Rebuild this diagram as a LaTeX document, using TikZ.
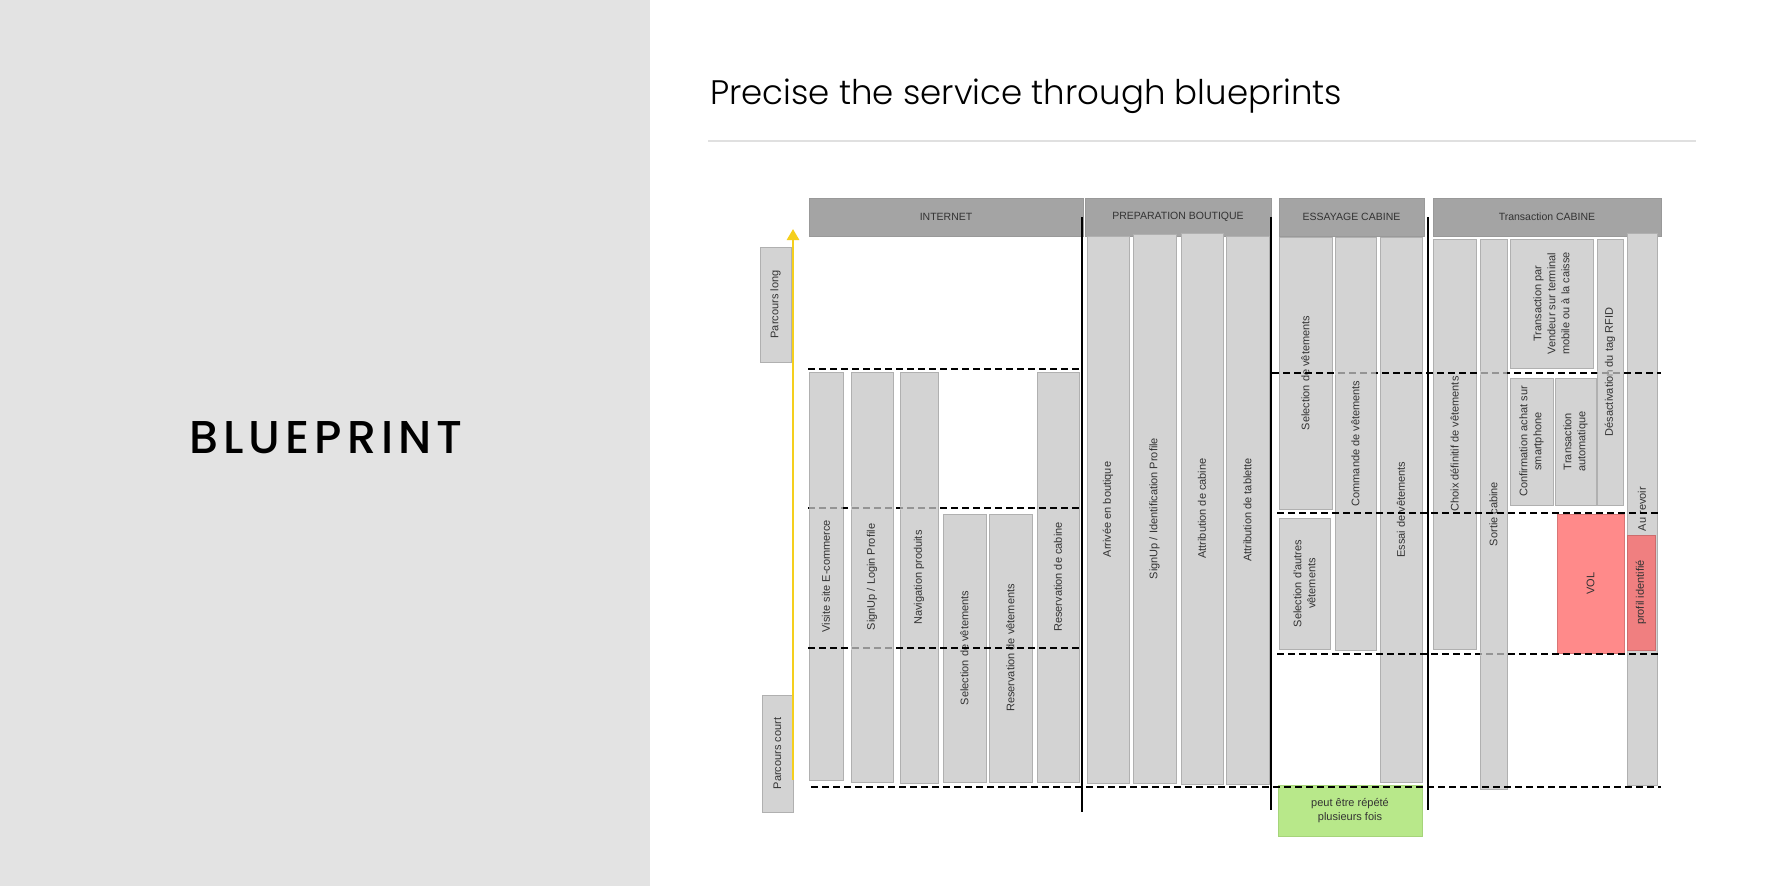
\documentclass[tikz,border=0pt]{standalone}
\usepackage{fontspec}
\setmainfont{Liberation Sans}
\newfontfamily\titlefont{Poppins Light}
\newfontfamily\brandfont{Poppins Medium}[LetterSpace=11]
\usetikzlibrary{positioning, arrows.meta}

\definecolor{panel}{HTML}{E3E3E3}
\definecolor{boxfill}{HTML}{D3D3D3}
\definecolor{boxline}{HTML}{B0B0B0}
\definecolor{headfill}{HTML}{A4A4A4}
\definecolor{headline}{HTML}{999999}
\definecolor{labeltext}{HTML}{333333}
\definecolor{pathyellow}{HTML}{F5CF1D}
\definecolor{repeatgreen}{HTML}{B8E88A}
\definecolor{repeatline}{HTML}{A6D47A}
\definecolor{volred}{HTML}{FF8A8A}
\definecolor{profilred}{HTML}{F07F80}
\definecolor{rulegray}{HTML}{E0E0E0}

\begin{document}
\begin{tikzpicture}[x=1pt, y=-1pt, >=Stealth,
    act/.style={draw=boxline, fill=boxfill, rotate=90, inner sep=1pt, align=center, text=labeltext, font=\fontsize{11}{14}\selectfont},
    head/.style={draw=headline, fill=headfill, minimum height=38, inner sep=0pt, text=labeltext, font=\fontsize{10.5}{12}\selectfont},
    lane/.style={line width=2pt, dash pattern=on 7pt off 4pt},
    veil/.style={fill=boxfill, fill opacity=0.7},
    sep/.style={line width=2.6pt}]
    \useasboundingbox (0,0) rectangle (1772,886);
    \fill[white] (0,0) rectangle (1772,886);
    \fill[panel] (0,0) rectangle (650,886);

    % titles
    \node[font=\brandfont\fontsize{46}{48}\selectfont] (brand) at (326,438) {BLUEPRINT};
    \node[anchor=base west, inner sep=0pt, font=\titlefont\fontsize{34}{36}\selectfont] (title) at (710,104) {Precise the service through blueprints};
    \draw[rulegray, line width=2pt] (708,141) -- (1696,141);

    % phase headers
    \node[head, minimum width=274] (internet) at (946,217) {INTERNET};
    \node[head, minimum width=186] (prep) at (1178,217) {PREPARATION BOUTIQUE};
    \node[head, minimum width=145] (essayage) at (1351.5,217) {ESSAYAGE CABINE};
    \node[head, minimum width=228] (transaction) at (1547,217) {Transaction CABINE};

    % parcours
    \node[act, minimum width=115, minimum height=31] (long) at (775.5,304.5) {Parcours long};
    \node[act, minimum width=117, minimum height=31] (court) at (777.5,753.5) {Parcours court};
    \coordinate (yl0) at (793,780);
    \coordinate (yl1) at (793,229);
    \draw[pathyellow, line width=2.6pt, -{Triangle[width=12pt,length=11pt]}] (yl0) -- (yl1);

    % internet
    \node[act, minimum width=408, minimum height=34] (visite) at (826,576) {Visite site E-commerce};
    \node[act, minimum width=410, minimum height=42] (signup) at (872,577) {SignUp / Login Profile};
    \node[act, minimum width=411, minimum height=38] (navig) at (919,577.5) {Navigation produits};
    \node[act, minimum width=268, minimum height=43] (selvet) at (964.5,648) {Selection de vêtements};
    \node[act, minimum width=268, minimum height=43] (resvet) at (1010.5,648) {Reservation de vêtements};
    \node[act, minimum width=410, minimum height=42] (rescab) at (1058,577) {Reservation de cabine};

    % preparation boutique
    \node[act, minimum width=547, minimum height=42] (arrivee) at (1108,509.5) {Arrivée en boutique};
    \node[act, minimum width=549, minimum height=43] (ident) at (1154.5,508.5) {SignUp / Identification Profile};
    \node[act, minimum width=551, minimum height=42] (attcab) at (1202,508.5) {Attribution de cabine};
    \node[act, minimum width=548, minimum height=43] (atttab) at (1247.5,510) {Attribution de tablette};

    % essayage cabine
    \node[act, minimum width=272, minimum height=53] (selcab) at (1305.5,373) {Selection de vêtements};
    \node[act, minimum width=413, minimum height=41] (commande) at (1355.5,443.5) {Commande de vêtements};
    \node[act, minimum width=545, minimum height=42] (essai) at (1401,509.5) {Essai de vêtements};
    \node[act, minimum width=131, minimum height=51] (autres) at (1304.5,583.5) {Selection d’autres\\vêtements};
    \node[act, rotate=-90, fill=repeatgreen, draw=repeatline, minimum width=144, minimum height=51] (repete) at (1350,810.5) {peut être répété\\plusieurs fois};

    % transaction cabine
    \node[act, minimum width=410, minimum height=43] (choix) at (1454.5,444) {Choix définitif de vêtements};
    \node[act, minimum width=550, minimum height=27] (sortie) at (1493.5,514) {Sortie cabine};
    \node[act, minimum width=129, minimum height=83] (vendeur) at (1551.5,303.5) {Transaction par\\Vendeur sur terminal\\mobile ou à la caisse};
    \node[act, minimum width=127, minimum height=43] (confirm) at (1531.5,441.5) {Confirmation achat sur\\smartphone};
    \node[act, minimum width=127, minimum height=41] (auto) at (1575.5,441.5) {Transaction\\automatique};
    \node[act, minimum width=266, minimum height=26] (desact) at (1610,372) {Désactivation du tag RFID};
    \node[act, minimum width=552, minimum height=30] (revoir) at (1642,509) {Au revoir};
    \node[act, fill=volred, draw=volred!85!black, minimum width=139, minimum height=67] (vol) at (1590.5,583.5) {VOL};
    \node[act, fill=profilred, draw=profilred!85!black, minimum width=115, minimum height=28] (profil) at (1641,592.5) {profil identifié};

    % lanes
    \draw[lane] (808,369) -- (1080,369);
    \draw[lane] (808,508) -- (1082,508);
    \draw[lane] (808,648) -- (1082,648);
    \draw[lane] (811,787) -- (1661,787);
    \draw[lane] (1272,373) -- (1661,373);
    \draw[lane] (1277,513) -- (1661,513);
    \draw[lane] (1277,654) -- (1661,654);
    % lanes seen through the boxes
    \fill[veil] (809,506) rectangle (843,510);
    \fill[veil] (851,506) rectangle (893,510);
    \fill[veil] (900,506) rectangle (938,510);
    \fill[veil] (851,646) rectangle (893,650);
    \fill[veil] (1335,371) rectangle (1376,375);
    \fill[veil] (1480,371) rectangle (1507,375);
    \fill[veil] (1597,371) rectangle (1623,375);
    \fill[veil] (1480,652) rectangle (1507,656);

    % phase separators
    \draw[sep] (1082,217) -- (1082,812);
    \draw[sep] (1271,217) -- (1271,810);
    \draw[sep] (1428,217) -- (1428,810);
\end{tikzpicture}
\end{document}
